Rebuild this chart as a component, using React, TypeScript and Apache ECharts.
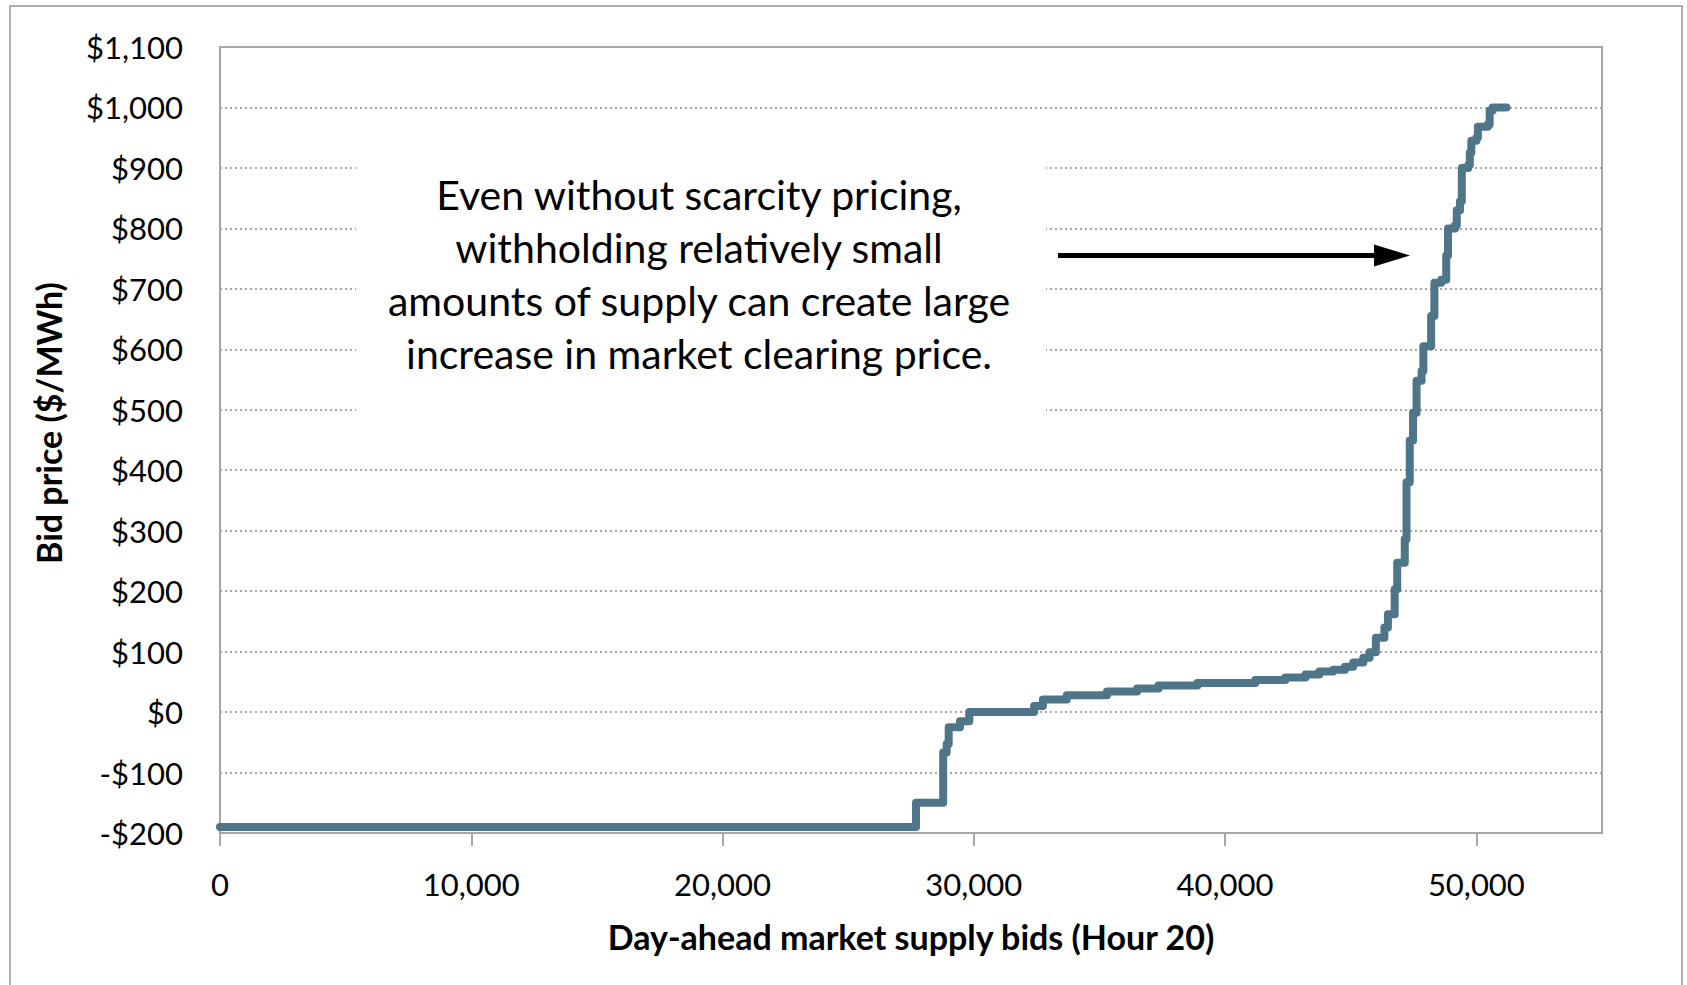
import React, { useEffect, useRef } from "react";
import * as echarts from "echarts";

// Supply curve: [cumulative MW where the price level starts, bid price $/MWh]
const supplyMW: number[] = [
  0, 27700, 28780, 28920, 29000, 29450, 29820, 32400, 32750, 33700, 35300, 36500,
  37350, 38900, 41200, 42400, 43200, 43750, 44300, 44770, 45100, 45500, 45750,
  46000, 46340, 46480, 46750, 46850, 47150, 47220, 47350, 47480, 47620, 47820,
  47890, 48200, 48330, 48600, 48800, 48870, 49150, 49220, 49350, 49420, 49680,
  49740, 49800, 50000, 50060, 50450, 50530, 50650, 51200,
];
const supplyPrice: number[] = [
  -190, -150, -67, -53, -25, -15, 0, 10, 21, 28, 34, 39,
  44, 48, 53, 57, 62, 67, 70, 75, 82, 90, 99,
  123, 140, 162, 203, 247, 286, 380, 449, 495, 548, 564,
  605, 655, 710, 715, 755, 800, 805, 830, 845, 900, 905,
  925, 945, 950, 968, 972, 995, 1000, 1000,
];
const xTicks: number[] = [0, 10000, 20000, 30000, 40000, 50000];
const yTicks: number[] = [-200, -100, 0, 100, 200, 300, 400, 500, 600, 700, 800, 900, 1000, 1100];

const annotation = [
  "Even without scarcity pricing,",
  "withholding relatively small",
  "amounts of supply can create large",
  "increase in market clearing price.",
];

const FONT = "Lato, 'Noto Sans', sans-serif";

function fmtNum(n: number): string {
  return Math.abs(n).toString().replace(/\B(?=(\d{3})+(?!\d))/g, ",");
}

export default function App() {
  const ref = useRef<HTMLDivElement>(null);
  useEffect(() => {
    if (!ref.current) return;
    const chart = echarts.init(ref.current, undefined, { renderer: "svg" });
    const data = supplyMW.map((x, i) => [x, supplyPrice[i]]);
    chart.setOption({
      animation: false,
      backgroundColor: "#ffffff",
      textStyle: { fontFamily: FONT },
      grid: {
        left: 220,
        right: 85,
        top: 47,
        bottom: 152,
        show: true,
        borderColor: "#a6a6a6",
        borderWidth: 2,
        backgroundColor: "#ffffff",
      },
      xAxis: {
        type: "value",
        min: 0,
        max: 55000,
        interval: 10000,
        name: "Day-ahead market supply bids (Hour 20)",
        nameLocation: "middle",
        nameGap: 86,
        nameTextStyle: { fontFamily: FONT, fontSize: 34, fontWeight: "bold", color: "#000" },
        axisLine: { show: true, onZero: false, lineStyle: { color: "#a6a6a6", width: 2 } },
        axisTick: { show: true, length: 13, lineStyle: { color: "#a6a6a6", width: 2 }, customValues: xTicks },
        axisLabel: {
          margin: 35,
          fontFamily: FONT,
          fontSize: 31,
          color: "#000",
          customValues: xTicks,
          formatter: (v: number) => fmtNum(v),
        },
        splitLine: { show: false },
      },
      yAxis: {
        type: "value",
        min: -200,
        max: 1100,
        interval: 100,
        name: "Bid price ($/MWh)",
        nameLocation: "middle",
        nameGap: 155,
        nameTextStyle: {
          fontFamily: FONT,
          fontSize: 34,
          fontWeight: "bold",
          color: "#000",
          padding: [0, 0, 0, 34],
        },
        axisLine: { show: true, lineStyle: { color: "#a6a6a6", width: 2 } },
        axisTick: { show: false },
        axisLabel: {
          margin: 37,
          fontFamily: FONT,
          fontSize: 31,
          color: "#000",
          customValues: yTicks,
          formatter: (v: number) => (v < 0 ? "-$" : "$") + fmtNum(v),
        },
        splitLine: { show: true, lineStyle: { color: "#a6a6a6", width: 2, type: [2, 3] } },
      },
      graphic: [
        {
          type: "rect",
          z: 1,
          shape: { x: 356, y: 132, width: 690, height: 306 },
          style: { fill: "#ffffff" },
          silent: true,
        },
        ...annotation.map((t, i) => ({
          type: "text",
          z: 5,
          x: 699,
          y: 194 + i * 53,
          style: {
            text: t,
            fill: "#000",
            fontSize: 41,
            fontFamily: FONT,
            textAlign: "center",
            textVerticalAlign: "middle",
          },
        })),
        {
          type: "line",
          z: 5,
          shape: { x1: 1058, y1: 255.5, x2: 1378, y2: 255.5 },
          style: { stroke: "#000", lineWidth: 5 },
        },
        {
          type: "polygon",
          z: 5,
          shape: { points: [[1374, 244.5], [1410, 255.5], [1374, 266.5]] },
          style: { fill: "#000" },
        },
        {
          type: "rect",
          z: 10,
          shape: { x: 10, y: 6, width: 1672, height: 1000 },
          style: { fill: "none", stroke: "#b0b0b0", lineWidth: 2 },
          silent: true,
        },
      ],
      series: [
        {
          type: "line",
          step: "end",
          data,
          showSymbol: false,
          z: 3,
          lineStyle: { color: "#4f7589", width: 8, cap: "round", join: "round" },
        },
      ],
    });
    return () => chart.dispose();
  }, []);
  return (
    <div
      ref={ref}
      style={{ position: "absolute", left: 0, top: 0, width: 1687, height: 985 }}
    />
  );
}
